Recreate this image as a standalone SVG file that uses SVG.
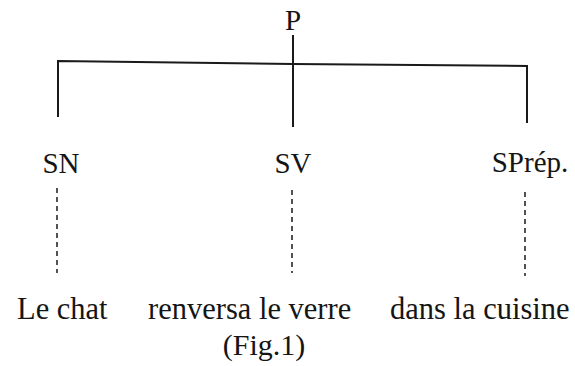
<svg xmlns="http://www.w3.org/2000/svg" width="575" height="366" viewBox="0 0 575 366">
<style>
  text { font-family: "Liberation Serif", "Times New Roman", Times, serif; fill: #151515; }
  .lbl { font-size: 29px; }
  .word { font-size: 30.5px; }
  .cap { font-size: 30px; }
  .solid { stroke: #1a1a1a; stroke-width: 2; fill: none; }
  .dash { stroke: #1a1a1a; stroke-width: 1.5; fill: none; stroke-dasharray: 5 4; }
</style>
<rect width="575" height="366" fill="#ffffff"/>
<g id="connectors">
  <polyline class="solid" points="58,117 58,61 293,64 527,66 527,123"/>
  <line class="solid" x1="293" y1="35" x2="293" y2="127"/>
  <line class="dash" x1="57" y1="188" x2="57" y2="273"/>
  <line class="dash" x1="292" y1="190" x2="292" y2="273"/>
  <line class="dash" x1="525" y1="192" x2="525" y2="276"/>
</g>
<g id="node-P"><text class="lbl" x="293" y="30" text-anchor="middle">P</text></g>
<g id="node-SN"><text class="lbl" x="61" y="173" text-anchor="middle">SN</text></g>
<g id="node-SV"><text class="lbl" x="293" y="173" text-anchor="middle">SV</text></g>
<g id="node-SPrep"><text class="lbl" x="530" y="172" text-anchor="middle">SPrép.</text></g>
<g id="word-LeChat"><text class="word" x="17" y="319">Le chat</text></g>
<g id="word-renversa"><text class="word" x="148" y="319">renversa le verre</text></g>
<g id="word-dans"><text class="word" x="390" y="319">dans la cuisine</text></g>
<g id="caption"><text class="cap" x="264" y="355" text-anchor="middle">(Fig.1)</text></g>
</svg>
